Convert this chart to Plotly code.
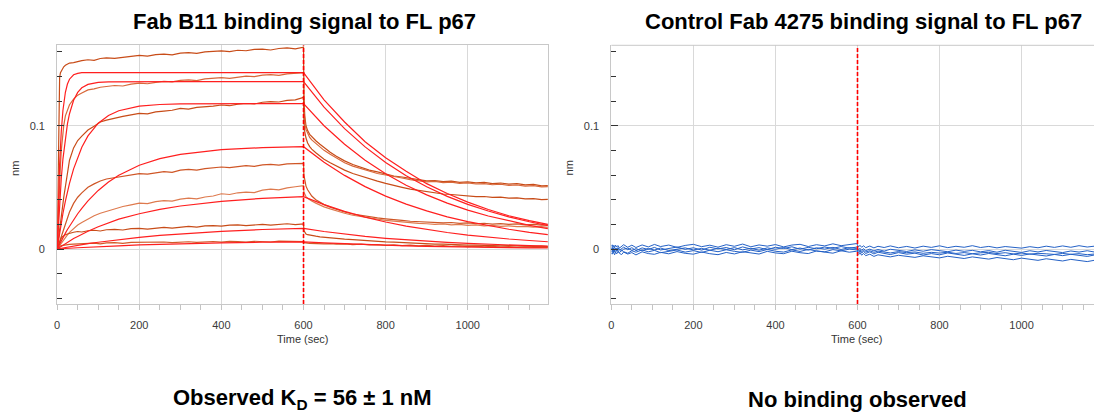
import plotly.graph_objects as go

# ---------------- time grids (s) ----------------
TA = [0, 2, 4, 6, 8, 10, 13, 16, 20, 25, 30, 40, 50, 60, 75, 90, 105, 120, 140, 160, 180, 200, 220, 240,
      260, 280, 300, 320, 340, 360, 380, 400, 420, 440, 460, 480, 500, 520, 540, 560, 580, 598]
TD = [600, 601, 603, 606, 610, 615, 620, 630, 640, 650, 665, 680, 700, 720, 740, 760, 780, 800, 820, 840,
      860, 880, 900, 920, 940, 960, 980, 1000, 1020, 1040, 1060, 1080, 1100, 1120, 1140, 1160, 1180, 1195]
TFA = [0, 3, 6, 10, 14, 20, 25, 30, 40, 50, 60, 75, 100, 125, 150, 200, 250, 300, 400, 500, 600]
TFD = [600, 650, 700, 750, 800, 850, 900, 950, 1000, 1050, 1100, 1150, 1195]

# ---------------- Fab B11 measured traces (nm) ----------------
D1_A = [0.000, 0.062, 0.124, 0.139, 0.143, 0.1445, 0.1465, 0.1478, 0.1490, 0.1500, 0.1508, 0.1512, 0.1522, 0.1528,
        0.1535, 0.1530, 0.1545, 0.1550, 0.1546, 0.1557, 0.1562, 0.1570, 0.1565, 0.1576, 0.1580, 0.1575, 0.1588,
        0.1593, 0.1586, 0.1598, 0.1601, 0.1606, 0.1600, 0.1612, 0.1608, 0.1619, 0.1621, 0.1614, 0.1626, 0.1631,
        0.1623, 0.1636]
D1_D = [0.1636, 0.125, 0.108, 0.100, 0.096, 0.093, 0.091, 0.0878, 0.0850, 0.0822, 0.0785, 0.0752, 0.0715, 0.0685,
        0.0662, 0.0640, 0.0625, 0.0608, 0.0592, 0.0584, 0.0570, 0.0562, 0.0552, 0.0555, 0.0546, 0.0550, 0.0540,
        0.0545, 0.0536, 0.0540, 0.0530, 0.0535, 0.0526, 0.0530, 0.0520, 0.0524, 0.0512, 0.0515]
D2_A = [0.000, 0.020, 0.040, 0.055, 0.068, 0.080, 0.092, 0.100, 0.108, 0.113, 0.117, 0.1215, 0.1248, 0.1265,
        0.1290, 0.1298, 0.1312, 0.1318, 0.1326, 0.1322, 0.1337, 0.1345, 0.1340, 0.1352, 0.1360, 0.1355, 0.1368,
        0.1372, 0.1366, 0.1380, 0.1385, 0.1390, 0.1384, 0.1396, 0.1402, 0.1398, 0.1410, 0.1414, 0.1408, 0.1420,
        0.1424, 0.1430]
D2_D = [0.1430, 0.118, 0.104, 0.097, 0.0935, 0.0905, 0.0885, 0.0855, 0.0825, 0.0800, 0.0768, 0.0738, 0.0700,
        0.0672, 0.0650, 0.0630, 0.0612, 0.0600, 0.0585, 0.0576, 0.0562, 0.0556, 0.0545, 0.0548, 0.0538, 0.0542,
        0.0532, 0.0536, 0.0527, 0.0530, 0.0521, 0.0525, 0.0516, 0.0519, 0.0510, 0.0514, 0.0504, 0.0506]
D3_A = [0.000, 0.006, 0.012, 0.017, 0.022, 0.027, 0.034, 0.042, 0.050, 0.062, 0.072, 0.082, 0.088, 0.0915,
        0.0965, 0.0995, 0.1030, 0.1045, 0.1062, 0.1075, 0.1088, 0.1100, 0.1096, 0.1112, 0.1118, 0.1125, 0.1140,
        0.1134, 0.1148, 0.1152, 0.1158, 0.1168, 0.1162, 0.1175, 0.1180, 0.1176, 0.1190, 0.1196, 0.1192, 0.1205,
        0.1210, 0.1227]
D3_D = [0.1227, 0.104, 0.095, 0.090, 0.086, 0.083, 0.081, 0.0780, 0.0752, 0.0728, 0.0700, 0.0672, 0.0640, 0.0612,
        0.0590, 0.0568, 0.0550, 0.0532, 0.0514, 0.0500, 0.0485, 0.0474, 0.0462, 0.0455, 0.0446, 0.0442, 0.0434,
        0.0430, 0.0424, 0.0426, 0.0418, 0.0421, 0.0412, 0.0415, 0.0406, 0.0409, 0.0400, 0.0403]
D4_A = [0.000, 0.002, 0.004, 0.006, 0.008, 0.010, 0.013, 0.016, 0.020, 0.025, 0.030, 0.037, 0.0420, 0.0455,
        0.0500, 0.0528, 0.0552, 0.0568, 0.0580, 0.0592, 0.0600, 0.0612, 0.0608, 0.0620, 0.0628, 0.0622, 0.0640,
        0.0646, 0.0640, 0.0652, 0.0658, 0.0665, 0.0660, 0.0670, 0.0676, 0.0670, 0.0682, 0.0686, 0.0680, 0.0690,
        0.0694, 0.0695]
D4_D = [0.0695, 0.060, 0.055, 0.051, 0.048, 0.045, 0.043, 0.0400, 0.0378, 0.0360, 0.0340, 0.0322, 0.0300, 0.0284,
        0.0272, 0.0262, 0.0252, 0.0245, 0.0236, 0.0232, 0.0225, 0.0222, 0.0216, 0.0219, 0.0212, 0.0215, 0.0208,
        0.0212, 0.0205, 0.0209, 0.0202, 0.0206, 0.0199, 0.0203, 0.0196, 0.0200, 0.0193, 0.0196]
D5_A = [0.000, 0.001, 0.002, 0.003, 0.004, 0.005, 0.0065, 0.008, 0.0095, 0.0115, 0.0135, 0.0165, 0.0195, 0.0215,
        0.0245, 0.0270, 0.0290, 0.0305, 0.0330, 0.0345, 0.0358, 0.0372, 0.0368, 0.0384, 0.0392, 0.0388, 0.0405,
        0.0412, 0.0406, 0.0422, 0.0430, 0.0448, 0.0442, 0.0456, 0.0462, 0.0458, 0.0478, 0.0485, 0.0480, 0.0496,
        0.0505, 0.0514]
D5_D = [0.0514, 0.046, 0.044, 0.0425, 0.0412, 0.0400, 0.0390, 0.0372, 0.0356, 0.0342, 0.0325, 0.0308, 0.0290,
        0.0274, 0.0262, 0.0250, 0.0242, 0.0232, 0.0226, 0.0218, 0.0214, 0.0208, 0.0205, 0.0200, 0.0203, 0.0196,
        0.0199, 0.0192, 0.0195, 0.0188, 0.0191, 0.0184, 0.0188, 0.0181, 0.0184, 0.0178, 0.0181, 0.0176]
D6_A = [0.000, 0.002, 0.004, 0.006, 0.0075, 0.0088, 0.0100, 0.0108, 0.0115, 0.0122, 0.0128, 0.0136, 0.0142, 0.0138,
        0.0148, 0.0152, 0.0146, 0.0156, 0.0160, 0.0154, 0.0165, 0.0168, 0.0162, 0.0172, 0.0176, 0.0170, 0.0180,
        0.0184, 0.0178, 0.0188, 0.0190, 0.0185, 0.0194, 0.0196, 0.0190, 0.0198, 0.0200, 0.0194, 0.0202, 0.0205,
        0.0198, 0.0203]
D6_D = [0.0203, 0.0150, 0.0132, 0.0122, 0.0116, 0.0112, 0.0108, 0.0104, 0.0099, 0.0095, 0.0090, 0.0086, 0.0080,
        0.0076, 0.0070, 0.0066, 0.0062, 0.0058, 0.0055, 0.0051, 0.0049, 0.0045, 0.0044, 0.0040, 0.0039, 0.0035,
        0.0035, 0.0031, 0.0032, 0.0028, 0.0029, 0.0025, 0.0027, 0.0023, 0.0025, 0.0021, 0.0023, 0.0020]
D7_A = [0.000, 0.0008, 0.0015, 0.0020, 0.0025, 0.0028, 0.0030, 0.0032, 0.0034, 0.0036, 0.0038, 0.0040, 0.0042,
        0.0038, 0.0045, 0.0047, 0.0042, 0.0049, 0.0051, 0.0046, 0.0053, 0.0054, 0.0049, 0.0055, 0.0057, 0.0051,
        0.0058, 0.0059, 0.0053, 0.0060, 0.0061, 0.0055, 0.0062, 0.0060, 0.0056, 0.0063, 0.0061, 0.0057, 0.0064,
        0.0062, 0.0058, 0.0060]
D7_D = [0.0060, 0.0052, 0.0050, 0.0048, 0.0047, 0.0046, 0.0045, 0.0043, 0.0046, 0.0041, 0.0044, 0.0039, 0.0042,
        0.0036, 0.0039, 0.0033, 0.0036, 0.0030, 0.0034, 0.0028, 0.0031, 0.0025, 0.0029, 0.0023, 0.0027, 0.0021,
        0.0025, 0.0019, 0.0023, 0.0017, 0.0021, 0.0016, 0.0019, 0.0014, 0.0018, 0.0013, 0.0016, 0.0012]

# ---------------- Fab B11 global fit curves (nm) ----------------
F1_A = [0, 0.0402, 0.0691, 0.0954, 0.1123, 0.1271, 0.1338, 0.1377, 0.1413, 0.1424, 0.1430, 0.1430, 0.1430,
        0.1430, 0.1430, 0.1430, 0.1430, 0.1430, 0.1430, 0.1430, 0.1430]
F2_A = [0, 0.0206, 0.0381, 0.0574, 0.0729, 0.0905, 0.1014, 0.1097, 0.1206, 0.1270, 0.1307, 0.1335, 0.1351,
        0.1356, 0.1357, 0.1357, 0.1357, 0.1357, 0.1357, 0.1357, 0.1357]
F3_A = [0, 0.0069, 0.0133, 0.0214, 0.0288, 0.0389, 0.0464, 0.0532, 0.0650, 0.0746, 0.0825, 0.0917, 0.1020,
        0.1083, 0.1121, 0.1158, 0.1172, 0.1177, 0.1180, 0.1180, 0.1180]
F4_A = [0, 0.0021, 0.0041, 0.0067, 0.0093, 0.0129, 0.0158, 0.0186, 0.0238, 0.0286, 0.0330, 0.0390, 0.0475,
        0.0543, 0.0598, 0.0679, 0.0733, 0.0768, 0.0806, 0.0822, 0.0830]
F5_A = [0, 0.0007, 0.0014, 0.0023, 0.0032, 0.0045, 0.0054, 0.0066, 0.0086, 0.0102, 0.0120, 0.0144, 0.0181,
        0.0213, 0.0242, 0.0286, 0.0322, 0.0349, 0.0386, 0.0411, 0.0424]
F6_A = [0, 0.0002, 0.0004, 0.0006, 0.0009, 0.0012, 0.0015, 0.0018, 0.0024, 0.0030, 0.0035, 0.0043, 0.0055,
        0.0066, 0.0076, 0.0094, 0.0110, 0.0123, 0.0143, 0.0158, 0.0168]
F7_A = [0, 0.0001, 0.0001, 0.0002, 0.0003, 0.0004, 0.0005, 0.0006, 0.0008, 0.0010, 0.0012, 0.0015, 0.0019,
        0.0023, 0.0026, 0.0033, 0.0038, 0.0043, 0.0050, 0.0055, 0.0058]
F1_D = [0.1430, 0.1210, 0.1030, 0.0870, 0.0740, 0.0630, 0.0530, 0.0450, 0.0380, 0.0320, 0.0270, 0.0230, 0.0200]
F2_D = [0.1357, 0.1150, 0.0976, 0.0828, 0.0702, 0.0594, 0.0505, 0.0427, 0.0362, 0.0308, 0.0261, 0.0221, 0.0190]
F3_D = [0.1180, 0.1000, 0.0850, 0.0720, 0.0610, 0.0517, 0.0439, 0.0372, 0.0315, 0.0268, 0.0227, 0.0192, 0.0165]
F4_D = [0.0830, 0.0704, 0.0597, 0.0506, 0.0429, 0.0364, 0.0309, 0.0261, 0.0222, 0.0188, 0.0160, 0.0135, 0.0116]
F5_D = [0.0424, 0.0360, 0.0305, 0.0259, 0.0219, 0.0186, 0.0158, 0.0134, 0.0113, 0.0096, 0.0081, 0.0069, 0.0059]
F6_D = [0.0168, 0.0142, 0.0121, 0.0102, 0.0087, 0.0074, 0.0062, 0.0053, 0.0045, 0.0038, 0.0032, 0.0027, 0.0024]
F7_D = [0.0058, 0.0049, 0.0042, 0.0035, 0.0030, 0.0025, 0.0022, 0.0018, 0.0015, 0.0013, 0.0011, 0.0009, 0.0008]

# ---------------- Control Fab 4275 traces (nm) ----------------
B1_A = [0.0020, 0.0034, 0.0013, 0.0030, 0.0010, 0.0032, 0.0016, 0.0028, 0.0008, 0.0026, 0.0035, 0.0014, 0.0031,
        0.0012, 0.0033, 0.0017, 0.0037, 0.0020, 0.0032, 0.0013, 0.0029, 0.0038, 0.0019, 0.0031, 0.0015, 0.0035,
        0.0022, 0.0040, 0.0018, 0.0033, 0.0023, 0.0036, 0.0017, 0.0032, 0.0038, 0.0020, 0.0035, 0.0025, 0.0042,
        0.0027, 0.0037, 0.0044]
B1_D = [0.0032, 0.0028, 0.0018, 0.0030, 0.0014, 0.0026, 0.0011, 0.0024, 0.0009, 0.0022, 0.0012, 0.0025, 0.0010,
        0.0021, 0.0008, 0.0023, 0.0013, 0.0026, 0.0011, 0.0022, 0.0014, 0.0027, 0.0012, 0.0021, 0.0009, 0.0020,
        0.0011, 0.0007, 0.0019, 0.0010, 0.0023, 0.0013, 0.0025, 0.0014, 0.0027, 0.0016, 0.0024, 0.0015]
B2_A = [0.0000, 0.0014, -0.0007, 0.0010, -0.0012, 0.0008, -0.0005, 0.0012, -0.0010, 0.0006, 0.0015, -0.0006,
        0.0011, -0.0014, 0.0009, -0.0004, 0.0013, -0.0008, 0.0007, 0.0016, -0.0003, 0.0010, -0.0009, 0.0014, 0.0001,
        0.0012, -0.0006, 0.0017, 0.0000, 0.0011, -0.0005, 0.0014, 0.0004, 0.0018, -0.0001, 0.0013, 0.0002, 0.0016,
        0.0005, 0.0020, 0.0007, 0.0018]
B2_D = [0.0016, 0.0003, -0.0004, 0.0006, -0.0010, 0.0003, -0.0013, -0.0001, -0.0015, -0.0004, -0.0017, -0.0002,
        -0.0014, -0.0020, -0.0007, -0.0018, -0.0005, -0.0016, -0.0022, -0.0009, -0.0019, -0.0011, -0.0023, -0.0013,
        -0.0026, -0.0010, -0.0021, -0.0028, -0.0014, -0.0024, -0.0012, -0.0022, -0.0029, -0.0016, -0.0025, -0.0014,
        -0.0026, -0.0018]
B3_A = [-0.0012, -0.0024, -0.0006, -0.0027, -0.0012, -0.0032, -0.0008, -0.0021, -0.0029, -0.0009, -0.0022,
        -0.0034, -0.0014, -0.0026, -0.0007, -0.0023, -0.0011, -0.0030, -0.0016, -0.0008, -0.0025, -0.0013, -0.0028,
        -0.0010, -0.0022, -0.0006, -0.0019, -0.0027, -0.0009, -0.0021, -0.0004, -0.0018, -0.0025, -0.0007, -0.0020,
        -0.0003, -0.0016, -0.0023, -0.0005, -0.0015, -0.0001, -0.0008]
B3_D = [-0.0008, -0.0020, -0.0028, -0.0013, -0.0032, -0.0020, -0.0036, -0.0023, -0.0040, -0.0026, -0.0037,
        -0.0045, -0.0029, -0.0042, -0.0034, -0.0049, -0.0037, -0.0047, -0.0032, -0.0044, -0.0052, -0.0039, -0.0049,
        -0.0036, -0.0048, -0.0055, -0.0042, -0.0052, -0.0040, -0.0051, -0.0057, -0.0044, -0.0054, -0.0043, -0.0053,
        -0.0060, -0.0047, -0.0056]
B4_A = [-0.0030, -0.0042, -0.0022, -0.0038, -0.0047, -0.0026, -0.0040, -0.0020, -0.0036, -0.0045, -0.0025,
        -0.0041, -0.0029, -0.0048, -0.0023, -0.0037, -0.0043, -0.0027, -0.0039, -0.0021, -0.0035, -0.0042, -0.0024,
        -0.0038, -0.0046, -0.0028, -0.0040, -0.0022, -0.0034, -0.0041, -0.0019, -0.0032, -0.0038, -0.0018, -0.0030,
        -0.0037, -0.0016, -0.0028, -0.0034, -0.0014, -0.0026, -0.0018]
B4_D = [-0.0018, -0.0037, -0.0044, -0.0028, -0.0050, -0.0036, -0.0054, -0.0042, -0.0060, -0.0047, -0.0057,
        -0.0064, -0.0051, -0.0062, -0.0068, -0.0055, -0.0066, -0.0072, -0.0059, -0.0070, -0.0077, -0.0064, -0.0075,
        -0.0082, -0.0069, -0.0080, -0.0087, -0.0074, -0.0085, -0.0092, -0.0079, -0.0090, -0.0097, -0.0084, -0.0095,
        -0.0102, -0.0090, -0.0106]
B5_A = [-0.0006, 0.0004, -0.0016, 0.0000, -0.0019, -0.0002, 0.0006, -0.0014, 0.0002, -0.0017, -0.0001, 0.0007,
        -0.0012, 0.0003, -0.0015, 0.0005, -0.0009, 0.0008, -0.0013, 0.0001, 0.0009, -0.0008, 0.0005, -0.0011,
        0.0007, -0.0004, 0.0011, -0.0007, 0.0006, -0.0010, 0.0009, -0.0002, 0.0012, -0.0005, 0.0008, -0.0009,
        0.0010, -0.0001, 0.0013, -0.0004, 0.0011, 0.0004]
B5_D = [0.0004, -0.0010, -0.0016, -0.0006, -0.0020, -0.0011, -0.0024, -0.0014, -0.0027, -0.0017, -0.0025,
        -0.0032, -0.0021, -0.0030, -0.0024, -0.0035, -0.0027, -0.0033, -0.0026, -0.0036, -0.0029, -0.0038, -0.0031,
        -0.0027, -0.0037, -0.0030, -0.0040, -0.0033, -0.0042, -0.0035, -0.0039, -0.0044, -0.0036, -0.0043, -0.0038,
        -0.0046, -0.0040, -0.0044]

# ---------------- text / axis values ----------------
TITLE_L = "Fab B11 binding signal to FL p67"
TITLE_R = "Control Fab 4275 binding signal to FL p67"
NOTE_L = "Observed K<sub>D</sub> = 56 ± 1 nM"
NOTE_R = "No binding observed"
X_TITLE = "Time (sec)"
Y_TITLE = "nm"
SWITCH_T = 600
X_RANGE = [0, 1196]
Y_RANGE = [-0.0446, 0.1652]

DATA_COLORS = ["#c84c18", "#d8683a", "#c84c18", "#cf5626", "#de7a4e", "#c84c18", "#d25a28"]
FIT_COLOR = "#ff1f1f"
BLUE = "#2461c6"

fig = go.Figure()

data_a = [D1_A, D2_A, D3_A, D4_A, D5_A, D6_A, D7_A]
data_d = [D1_D, D2_D, D3_D, D4_D, D5_D, D6_D, D7_D]
for ya, yd, c in zip(data_a, data_d, DATA_COLORS):
    fig.add_trace(go.Scatter(x=TA + TD, y=ya + yd, mode="lines", line=dict(color=c, width=1.2),
                             xaxis="x", yaxis="y", showlegend=False, hoverinfo="skip"))

fit_a = [F1_A, F2_A, F3_A, F4_A, F5_A, F6_A, F7_A]
fit_d = [F1_D, F2_D, F3_D, F4_D, F5_D, F6_D, F7_D]
for ya, yd in zip(fit_a, fit_d):
    fig.add_trace(go.Scatter(x=TFA + TFD, y=ya + yd, mode="lines", line=dict(color=FIT_COLOR, width=1.2),
                             xaxis="x", yaxis="y", showlegend=False, hoverinfo="skip"))

for ya, yd in zip([B1_A, B2_A, B3_A, B4_A, B5_A], [B1_D, B2_D, B3_D, B4_D, B5_D]):
    fig.add_trace(go.Scatter(x=TA + TD, y=ya + yd, mode="lines", line=dict(color=BLUE, width=1),
                             xaxis="x2", yaxis="y2", showlegend=False, hoverinfo="skip"))

# association / dissociation switch marker (red dashed vertical)
for xa, ya in [("x", "y"), ("x2", "y2")]:
    fig.add_trace(go.Scatter(x=[SWITCH_T, SWITCH_T], y=Y_RANGE, mode="lines",
                             line=dict(color="#ff0000", width=1.6, dash="4px,2px"),
                             xaxis=xa, yaxis=ya, showlegend=False, hoverinfo="skip"))

# the page body has an 8px default margin: the figure is sized so it ends at the window edge
OFF = 8
W, H = 1102 - OFF, 413 - OFF


def px(x):
    return (x - OFF) / W


def py(y):
    return 1 - (y - OFF) / H


TICKFONT = dict(family="Liberation Sans, Arial, sans-serif", size=11, color="#3a3a3a")


def xax(domain, mirror):
    return dict(domain=domain, range=X_RANGE, tick0=0, dtick=200, ticks="outside", ticklen=5,
                tickcolor="#c4c4c4", showline=True, linecolor="#c8c8c8", linewidth=1, mirror=mirror,
                showgrid=True, gridcolor="#d9d9d9", gridwidth=1, zeroline=False, tickfont=TICKFONT,
                ticklabelstandoff=6,
                minor=dict(dtick=50, tick0=0, ticks="outside", ticklen=5, tickcolor="#c4c4c4", showgrid=False))


def yax(anchor, mirror):
    return dict(domain=[py(304), py(45.3)], anchor=anchor, range=Y_RANGE, tick0=0, dtick=0.1,
                ticks="inside", ticklen=7, tickcolor="#333333", showline=True, linecolor="#c8c8c8",
                mirror=mirror, showgrid=True, gridcolor="#d9d9d9", zeroline=False, tickfont=TICKFONT,
                ticklabelstandoff=9,
                minor=dict(dtick=0.02, tick0=0, ticks="inside", ticklen=5, tickcolor="#333333", showgrid=False))


fig.update_layout(
    width=W, height=H, autosize=False,
    margin=dict(l=0, r=0, t=0, b=0),
    paper_bgcolor="white", plot_bgcolor="white",
    xaxis=dict(xax([px(54.3), px(546.7)], True), anchor="y"),
    yaxis=yax("x", True),
    xaxis2=dict(xax([px(610), 1.0], False), anchor="y2"),
    yaxis2=yax("x2", False),
)

# top border for right panel (its right edge is cut by the image border)
fig.add_shape(type="line", xref="x2 domain", yref="y2 domain", x0=0, x1=1, y0=1, y1=1,
              line=dict(color="#c8c8c8", width=1))

BOLD = dict(family="Liberation Sans, Arial, sans-serif", size=22, color="black")
annotations = []
for text, x, y in [(TITLE_L, 302.5, 21.5), (TITLE_R, 862.5, 21.5), (NOTE_L, 300.5, 399), (NOTE_R, 857, 399)]:
    annotations.append(dict(text="<b>%s</b>" % text, x=px(x), y=py(y), xref="paper", yref="paper",
                            showarrow=False, xanchor="center", yanchor="middle", font=BOLD))

for cx in [300.5, 856]:
    annotations.append(dict(text=X_TITLE, x=px(cx), y=py(339), xref="paper", yref="paper",
                            showarrow=False, xanchor="center", yanchor="middle",
                            font=dict(family="Liberation Sans, Arial, sans-serif", size=11, color="#333333")))
for cx in [12, 568]:
    annotations.append(dict(text=Y_TITLE, x=px(cx), y=py(168), xref="paper", yref="paper",
                            showarrow=False, xanchor="center", yanchor="middle", textangle=-90,
                            font=dict(family="Liberation Sans, Arial, sans-serif", size=11, color="#333333")))
fig.update_layout(annotations=annotations)

fig.write_html("out.html", include_plotlyjs=True, config={"displayModeBar": False})
